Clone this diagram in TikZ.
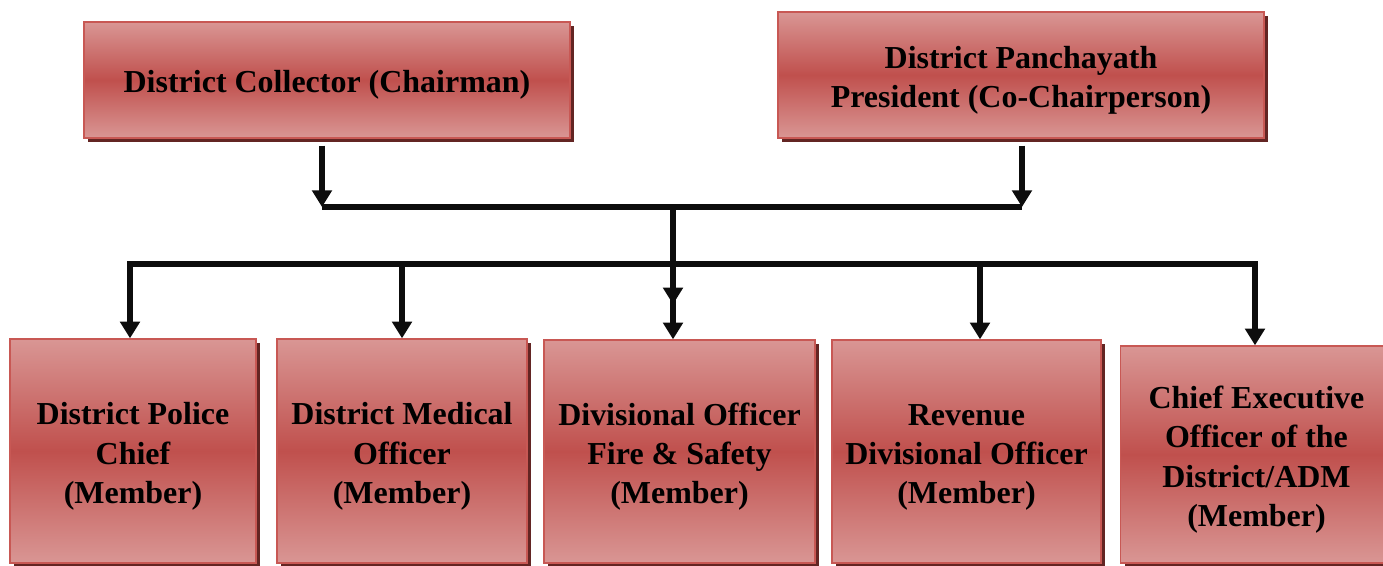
\documentclass[tikz,border=0pt]{standalone}
\usepackage{fontspec}
\setmainfont{Liberation Serif}
\usepackage{tikz}
\usetikzlibrary{arrows.meta,shadows}
\definecolor{boxlight}{RGB}{217,150,148}
\definecolor{boxmid}{RGB}{192,80,77}
\definecolor{boxedge}{RGB}{200,88,84}
\definecolor{boxshade}{RGB}{99,37,35}
\tikzset{
	redbox/.style={draw=boxedge, line width=0.8pt, top color=boxlight, bottom color=boxlight, middle color=boxmid, inner sep=0pt, align=center, font=\bfseries\fontsize{18.2}{22.4}\selectfont, execute at begin node={\rule{0pt}{18.5pt}}, drop shadow={shadow xshift=0.08cm, shadow yshift=-0.08cm, fill=boxshade, opacity=1}},
	multi/.style={execute at begin node={\rule{0pt}{#1}}},
	bar/.style={line width=3pt, black!95},
	arr/.style={bar, -{Triangle[width=11pt,length=9.5pt]}}
}

\begin{document}
\begin{tikzpicture}[x=0.02cm, y=-0.02cm]
			%%%%% START %%%%%
			
			\useasboundingbox (0, 0) rectangle (1383, 565);
			
			\node[redbox, minimum width=9.72cm, minimum height=2.32cm] (coll) at (327, 80) {District Collector (Chairman)};
			\node[redbox, multi=41pt, minimum width=9.72cm, minimum height=2.52cm] (pres) at (1021, 75) {District Panchayath\\President (Co-Chairperson)};
			
			\node[redbox, multi=63.5pt, minimum width=4.92cm, minimum height=4.48cm] (police) at (133, 451) {District Police\\Chief\\(Member)};
			\node[redbox, multi=63.5pt, minimum width=5cm, minimum height=4.48cm] (medical) at (402, 451) {District Medical\\Officer\\(Member)};
			\node[redbox, multi=63.5pt, minimum width=5.42cm, minimum height=4.46cm] (fire) at (679.5, 451.5) {Divisional Officer\\Fire \& Safety\\(Member)};
			\node[redbox, multi=63.5pt, minimum width=5.38cm, minimum height=4.46cm] (revenue) at (966.5, 451.5) {Revenue\\Divisional Officer\\(Member)};
			\node[redbox, multi=86pt, minimum width=5.44cm, minimum height=4.34cm] (ceo) at (1256.5, 454.5) {Chief Executive\\Officer of the\\District/ADM\\(Member)};
			
			\coordinate (jl) at (322, 207);
			\coordinate (jr) at (1022, 207);
			\coordinate (jm) at (673, 207);
			\coordinate (ll) at (130, 264);
			\coordinate (lr) at (1255, 264);
			
			\draw[bar] (jl) -- (jr);
			\draw[arr] ([yshift=-0.14cm]coll.south -| jl) -- (jl);
			\draw[arr] ([yshift=-0.14cm]pres.south -| jr) -- (jr);
			
			\draw[arr] (lr) -- (ll) -- (ll |- police.north);
			\draw[arr] (ll) -- (lr) -- (lr |- ceo.north);
			\draw[arr] (medical.north |- ll) -- (medical.north);
			\draw[arr] (jm) -- ([yshift=0.7cm]jm |- fire.north);
			\draw[arr] (jm |- ll) -- (jm |- fire.north);
			\draw[arr] ([xshift=0.27cm]revenue.north |- ll) -- ([xshift=0.27cm]revenue.north);
			
			%%%%% END %%%%%
\end{tikzpicture}
\end{document}
